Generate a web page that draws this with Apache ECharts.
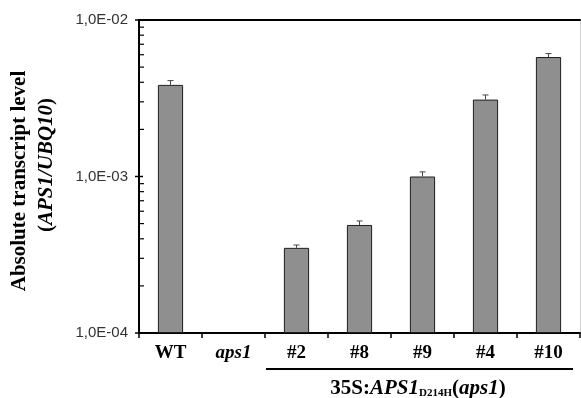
<!DOCTYPE html>
<html><head><meta charset="utf-8">
<script src="https://cdn.jsdelivr.net/npm/echarts@6/dist/echarts.min.js"></script>
<style>html,body{margin:0;padding:0;background:#fff}#c{width:581px;height:398px}</style>
</head><body><div id="c"></div>
<script>
const categories = ['WT', 'aps1', '#2', '#8', '#9', '#4', '#10'];
const values = [3.85e-3, null, 3.5e-4, 4.9e-4, 1.0e-3, 3.1e-3, 5.8e-3];
const errors = [2.5e-4, null, 1.5e-5, 3e-5, 7e-5, 2.2e-4, 3e-4];
const yTickValues = [1e-4, 1e-3, 1e-2];
const yTickLabels = ['1,0E-04', '1,0E-03', '1,0E-02'];
const minorTickValues = [2e-4, 3e-4, 4e-4, 5e-4, 6e-4, 7e-4, 8e-4, 9e-4,
                         2e-3, 3e-3, 4e-3, 5e-3, 6e-3, 7e-3, 8e-3, 9e-3];

const serif = '"Liberation Serif", "Times New Roman", serif';
const sans = '"Liberation Sans", Arial, sans-serif';

const chart = echarts.init(document.getElementById('c'), null, {renderer: 'canvas'});

const barData = values.map(v => v == null ? '-' : v);
const errData = [];
values.forEach((v, i) => { if (v != null) errData.push([i, v, v + errors[i]]); });
const tickData = yTickValues.map(v => [0, v, 1]).concat(minorTickValues.map(v => [0, v, 0]));

chart.setOption({
  animation: false,
  grid: {left: 139, top: 20, right: 1, bottom: 65, show: false, containLabel: false},
  xAxis: [{
    type: 'category', data: categories,
    axisLine: {lineStyle: {color: '#000', width: 2}},
    axisTick: {show: true, interval: 0, length: 5, lineStyle: {color: '#000', width: 1.5}},
    axisLabel: {
      interval: 0, margin: 11, color: '#000', fontFamily: serif, fontWeight: 'bold', fontSize: 19,
      formatter: v => v === 'aps1' ? '{i|aps1}' : v,
      rich: {i: {fontStyle: 'italic', fontWeight: 'bold', fontFamily: serif, fontSize: 19, color: '#000'}}
    }
  }, {
    type: 'category', data: categories, position: 'top',
    axisLine: {show: true, lineStyle: {color: '#000', width: 2}},
    axisTick: {show: false}, axisLabel: {show: false}
  }],
  yAxis: [{
    type: 'log', logBase: 10, min: 1e-4, max: 1e-2, startValue: 1e-4,
    axisLine: {show: true, lineStyle: {color: '#000', width: 2}},
    axisTick: {show: false},
    splitLine: {show: false},
    minorTick: {show: false},
    axisLabel: {
      margin: 11, color: '#333', fontFamily: sans, fontSize: 15,
      formatter: v => yTickLabels[Math.round(Math.log10(v)) + 4]
    }
  }, {
    type: 'log', logBase: 10, min: 1e-4, max: 1e-2, position: 'right',
    axisLine: {show: true, lineStyle: {color: '#cfcfcf', width: 1}},
    axisTick: {show: false}, axisLabel: {show: false}, splitLine: {show: false}
  }],
  series: [
    {
      type: 'bar', data: barData, barWidth: '40%',
      itemStyle: {color: '#8f8f8f', borderColor: '#1e1e1e', borderWidth: 1}
    },
    {
      type: 'custom', data: errData, clip: false, z: 5,
      encode: {x: 0, y: [1, 2]},
      renderItem: (params, api) => {
        const lo = api.coord([api.value(0), api.value(1)]);
        const hi = api.coord([api.value(0), api.value(2)]);
        const st = {stroke: '#444', lineWidth: 1};
        return {type: 'group', children: [
          {type: 'line', shape: {x1: lo[0], y1: lo[1], x2: hi[0], y2: hi[1]}, style: st},
          {type: 'line', shape: {x1: hi[0] - 3, y1: hi[1], x2: hi[0] + 3, y2: hi[1]}, style: st}
        ]};
      }
    },
    {
      type: 'custom', data: tickData, clip: false, z: 6,
      encode: {x: 0, y: 1},
      renderItem: (params, api) => {
        const p = api.coord([0, api.value(1)]);
        const x0 = params.coordSys.x;
        const major = api.value(2) === 1;
        return {type: 'line',
          shape: major ? {x1: x0 - 4, y1: p[1], x2: x0 + 4, y2: p[1]} : {x1: x0, y1: p[1], x2: x0 + 5, y2: p[1]},
          style: {stroke: '#000', lineWidth: major ? 1.5 : 1.2}};
      }
    }
  ],
  graphic: [
    {type: 'text', x: 20, y: 181, rotation: Math.PI / 2,
     style: {text: 'Absolute transcript level', font: 'bold 21px ' + serif, fill: '#000', align: 'center', verticalAlign: 'middle'}},
    {type: 'text', x: 47, y: 165, rotation: Math.PI / 2,
     style: {text: '{n|(}{i|APS1/UBQ10}{n|)}', align: 'center', verticalAlign: 'middle',
       rich: {n: {font: 'bold 21px ' + serif, fill: '#000'}, i: {font: 'italic bold 21px ' + serif, fill: '#000'}}}},
    {type: 'line', shape: {x1: 266, y1: 369, x2: 573, y2: 369}, style: {stroke: '#000', lineWidth: 2}},
    {type: 'text', x: 418, y: 389,
     style: {text: '{n|35S:}{i|APS1}{s|D214H}{n|(}{i|aps1}{n|)}', align: 'center', verticalAlign: 'middle',
       rich: {n: {font: 'bold 21px ' + serif, fill: '#000', verticalAlign: 'bottom', height: 22},
              i: {font: 'italic bold 21px ' + serif, fill: '#000', verticalAlign: 'bottom', height: 22},
              s: {font: 'bold 11px ' + serif, fill: '#000', verticalAlign: 'bottom', height: 22, padding: [0, 0, -4, 0]}}}}
  ]
});
</script></body></html>
